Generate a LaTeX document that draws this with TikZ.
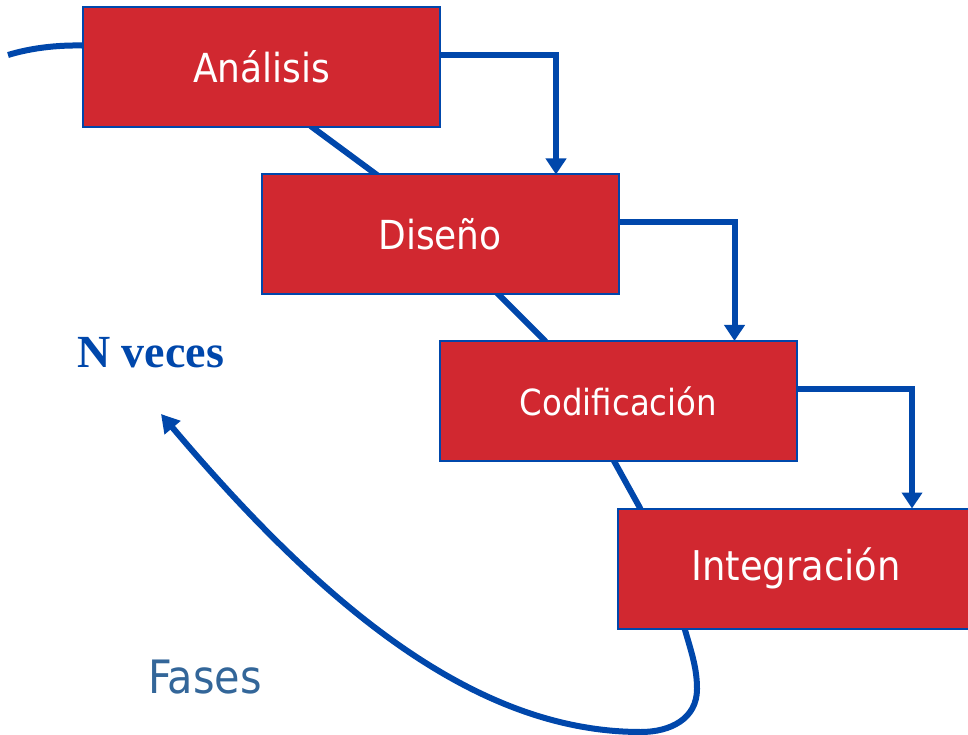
\documentclass[tikz,border=0pt]{standalone}
\usepackage{fontspec}
\newfontfamily\phasefont{DejaVu Sans Condensed}
\newfontfamily\timesfont{Liberation Serif}
\usetikzlibrary{arrows.meta}
\definecolor{phasered}{RGB}{209,40,48}
\definecolor{flowblue}{RGB}{0,71,171}
\definecolor{labelblue}{RGB}{51,102,153}
\tikzset{phase/.style={draw=flowblue, line width=2pt, fill=phasered, text=white, minimum width=357pt, minimum height=120pt, inner sep=0pt, outer sep=0pt, font=\phasefont\fontsize{40}{48}\selectfont}}
\tikzset{flow/.style={draw=flowblue, line width=6pt, -{Triangle[width=20pt, length=16pt]}}}
\tikzset{loopline/.style={draw=flowblue, line width=6pt, line join=round}}

\begin{document}
\begin{tikzpicture}[x=1pt, y=1pt]
            \useasboundingbox (0,0) rectangle (968,734);
            \draw[loopline, -{Triangle[width=20pt, length=18pt]}] (8,679) .. controls (110,710) and (250,660) .. (312,607) -- (377,559) -- (497,441) -- (545,393) -- (614,273) -- (640,226) -- (685,104) .. controls (692,80) and (697,65) .. (697,45) .. controls (697,15) and (670,2) .. (641,2) .. controls (480,2) and (330,120) .. (161,320);
            \node[phase] (ana) at (261.5,667) {Análisis};
            \node[phase] (dis) at (440,499.5) {Diseño};
            \node[phase, font=\phasefont\fontsize{36}{44}\selectfont] (cod) at (618.5,333) {Codificación};
            \node[phase, font=\phasefont\fontsize{41}{49}\selectfont] (int) at (796,165.5) {Integración};
            \draw[flow] ([yshift=12pt]ana.east) -| ([xshift=116pt]dis.north);
            \draw[flow] ([yshift=12pt]dis.east) -| ([xshift=116pt]cod.north);
            \draw[flow] ([yshift=12pt]cod.east) -| ([xshift=116pt]int.north);
            \node[anchor=base west, inner sep=0pt, text=flowblue, font=\timesfont\bfseries\fontsize{46}{54}\selectfont] (nveces) at (77,366) {N veces};
            \node[anchor=base west, inner sep=0pt, text=labelblue, font=\phasefont\fontsize{46}{55}\selectfont] (fases) at (148,41) {Fases};
        \end{tikzpicture}
\end{document}
